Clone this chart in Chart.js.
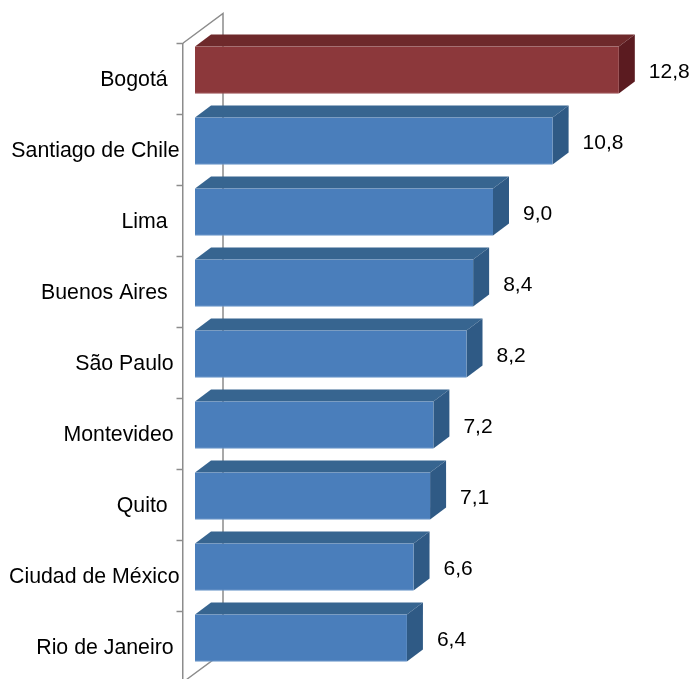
<!DOCTYPE html>
<html>
<head>
<meta charset="utf-8">
<style>
  html, body { margin: 0; padding: 0; background: #fff; overflow: hidden; height: 679px; }
  canvas { display: block; }
</style>
<script src="https://cdn.jsdelivr.net/npm/chart.js@4"></script>
</head>
<body>
<canvas id="chart" width="690" height="700"></canvas>
<script>
  // trailing spaces are in the source labels, they push the text off the axis
  const categories = ["Bogotá  ", "Santiago de Chile", "Lima  ", "Buenos Aires  ", "São Paulo ", "Montevideo ", "Quito  ", "Ciudad de México", "Rio de Janeiro "];
  const values = [12.8, 10.8, 9.0, 8.4, 8.2, 7.2, 7.1, 6.6, 6.4];

  const frontColors = ["#8c383b", "#4a7ebb", "#4a7ebb", "#4a7ebb", "#4a7ebb", "#4a7ebb", "#4a7ebb", "#4a7ebb", "#4a7ebb"];
  const edgeColors = ["#9a4f52", "#6d98cb", "#6d98cb", "#6d98cb", "#6d98cb", "#6d98cb", "#6d98cb", "#6d98cb", "#6d98cb"];
  const topColors = ["#6e292b", "#376590", "#376590", "#376590", "#376590", "#376590", "#376590", "#376590", "#376590"];
  const sideColors = ["#5b1b20", "#2f5a85", "#2f5a85", "#2f5a85", "#2f5a85", "#2f5a85", "#2f5a85", "#2f5a85", "#2f5a85"];

  const FONT = '"Liberation Sans", Arial, sans-serif';
  const AXIS = "#8c8c8c";
  const DX = 16;      // depth of the bars
  const DY = 12;
  const SHIFT = 9;    // bars sit above the middle of their band
  const WALL_DX = 40.5;
  const WALL_DY = 30;

  const fake3d = {
    id: "fake3d",
    beforeDatasetsDraw(chart) {
      const { ctx, chartArea: a } = chart;
      const bars = chart.getDatasetMeta(0).data;
      const poly = (pts, fill) => {
        ctx.fillStyle = fill;
        ctx.beginPath();
        pts.forEach((p, i) => (i ? ctx.lineTo(p[0], p[1]) : ctx.moveTo(p[0], p[1])));
        ctx.closePath();
        ctx.fill();
      };
      ctx.save();
      // back wall edge and the two floor/ceiling diagonals
      ctx.strokeStyle = AXIS;
      ctx.lineWidth = 1.5;
      ctx.beginPath();
      ctx.moveTo(a.left, a.top);
      ctx.lineTo(a.left + WALL_DX, a.top - WALL_DY);
      ctx.lineTo(a.left + WALL_DX, a.bottom - WALL_DY);
      ctx.lineTo(a.left, a.bottom);
      ctx.stroke();
      bars.forEach((b, i) => {
        const x0 = b.base;
        const x1 = b.x;
        const t = b.y - b.height / 2 - SHIFT;
        const h = b.height;
        poly([[x0, t], [x0 + DX, t - DY], [x1 + DX, t - DY], [x1, t]], topColors[i]);
        poly([[x1, t], [x1 + DX, t - DY], [x1 + DX, t + h - DY], [x1, t + h]], sideColors[i]);
      });
      ctx.restore();
      // native bars get moved up for this pass
      ctx.save();
      ctx.translate(0, -SHIFT);
    },
    afterDatasetsDraw(chart) {
      const { ctx } = chart;
      ctx.restore();
      const bars = chart.getDatasetMeta(0).data;
      ctx.save();
      ctx.font = "21px " + FONT;
      ctx.fillStyle = "#000";
      ctx.textAlign = "left";
      ctx.textBaseline = "middle";
      bars.forEach((b, i) => {
        ctx.fillText(values[i].toFixed(1).replace(".", ","), b.x + 30, b.y - SHIFT + 2);
      });
      ctx.restore();
    },
  };

  new Chart(document.getElementById("chart"), {
    type: "bar",
    data: {
      labels: categories,
      datasets: [
        {
          data: values,
          backgroundColor: frontColors,
          borderColor: edgeColors,
          borderWidth: { bottom: 1, top: 0, left: 0, right: 0 },
          borderSkipped: false,
          barThickness: 47,
        },
      ],
    },
    options: {
      indexAxis: "y",
      responsive: false,
      animation: false,
      layout: { padding: { top: 43.5, bottom: 17.5, left: 0, right: 0 } },
      plugins: { legend: { display: false }, tooltip: { enabled: false } },
      scales: {
        x: { display: false, min: -0.378, max: 14.95 },
        y: {
          afterFit: (s) => { s.width = 182.5; },
          border: { display: true, color: AXIS, width: 1.5 },
          grid: { offset: true, drawOnChartArea: false, drawTicks: true, tickLength: 6, tickColor: AXIS, tickWidth: 1.5 },
          ticks: { color: "#000", font: { family: FONT, size: 21.3 }, padding: -3, labelOffset: 1.5, autoSkip: false },
        },
      },
    },
    plugins: [fake3d],
  });
</script>
</body>
</html>
